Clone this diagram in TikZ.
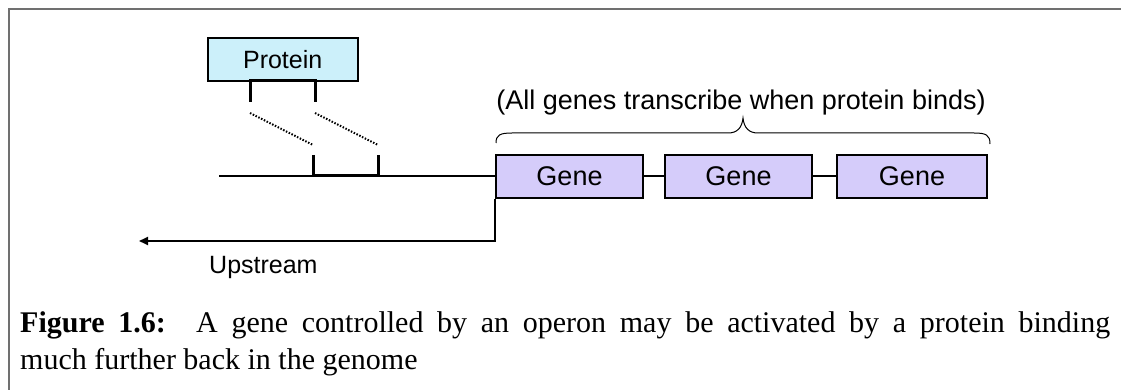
\documentclass[tikz,border=0pt]{standalone}
\usepackage{fontspec}
\setmainfont{Liberation Serif}
\setsansfont{Liberation Sans}
\usetikzlibrary{arrows.meta}

\definecolor{framegrey}{RGB}{112,112,112}
\definecolor{proteinfill}{RGB}{204,240,250}
\definecolor{genefill}{RGB}{213,204,250}

\tikzset{
  box/.style={draw=black, line width=1.6pt, rectangle, inner sep=0pt},
  proteinbox/.style={box, fill=proteinfill, minimum width=150pt, minimum height=43pt,
                     font=\sffamily\fontsize{25}{30}\selectfont},
  genebox/.style={box, fill=genefill, minimum height=43pt,
                  font=\sffamily\fontsize{27}{32}\selectfont},
  strand/.style={line width=2pt, draw=black},
  site/.style={line width=3pt, draw=black},
  guide/.style={line width=2pt, dash pattern=on 1.5pt off 1.6pt},
  label/.style={font=\sffamily\fontsize{25}{30}\selectfont, inner sep=0pt},
  notelabel/.style={font=\sffamily\fontsize{27}{32}\selectfont, inner sep=0pt},
  captext/.style={font=\fontsize{30}{36}\selectfont, inner sep=0pt, anchor=base west}
}

\begin{document}
\begin{tikzpicture}[x=1pt, y=-1pt]
\useasboundingbox (0,0) rectangle (1121,390);

% outer frame (top and left edges)
\draw[framegrey, line width=2pt] (8.5,390) -- (8.5,9.5) -- (1121,9.5);

% protein and its binding arms
\node[proteinbox] (protein) at (282.7,59.5) {Protein};
\coordinate (pA) at (250,81);
\coordinate (pB) at (315,81);
\coordinate (pAe) at (250,102);
\coordinate (pBe) at (315,102);
\draw[site] (pAe) -- (pA) -- (pB) -- (pBe);

% binding site on the DNA
\coordinate (sA) at (313,155);
\coordinate (sB) at (378,155);
\coordinate (sAb) at (313,175.5);
\coordinate (sBb) at (378,175.5);
\draw[site] (sA) -- (sAb) -- (sBb) -- (sB);

% dotted guides from protein arms to the site
\coordinate (gA1) at (250,113);
\coordinate (gA2) at (313,145);
\coordinate (gB1) at (315,113);
\coordinate (gB2) at (378,145);
\draw[guide] (gA1) -- (gA2);
\draw[guide] (gB1) -- (gB2);

% genes
\node[genebox, minimum width=147pt] (g1) at (569.5,176.5) {Gene};
\node[genebox, minimum width=147pt] (g2) at (738.5,176.5) {Gene};
\node[genebox, minimum width=150pt] (g3) at (912,176.5) {Gene};
\draw[strand] (g1.east) -- (g2.west);
\draw[strand] (g2.east) -- (g3.west);

% DNA strand leading to the first gene
\coordinate (dnaL) at (219,176.5);
\draw[strand] (dnaL) -- (g1.west);

% upstream direction
\coordinate (upL) at (139,241);
\draw[line width=2pt, -{Triangle[length=9pt,width=8pt]}] (g1.south west) |- (upL);
\node[label, anchor=base west] (up) at (209,273) {Upstream};

% brace over the genes
\coordinate (brL) at (496,143);
\coordinate (brR) at (990,144);
\coordinate (brT) at (743,118);
\draw[line width=1pt] (brL) .. controls (496,135) and (500,133) .. (512,133) -- (728,133)
  .. controls (737,133) and (742,128) .. (brT)
  .. controls (744,128) and (749,133) .. (758,133) -- (974,133)
  .. controls (986,133) and (990,135) .. (brR);
\node[notelabel, anchor=base] (note) at (741,110) {(All genes transcribe when protein binds)};

% caption
\node[captext] (cap1) at (20,332)
  {\makebox[1090pt][s]{\textbf{Figure 1.6:}\hspace{8pt} A gene controlled by an operon may be activated by a protein binding}};
\node[captext] (cap2) at (20,369) {much further back in the genome};
\end{tikzpicture}
\end{document}
